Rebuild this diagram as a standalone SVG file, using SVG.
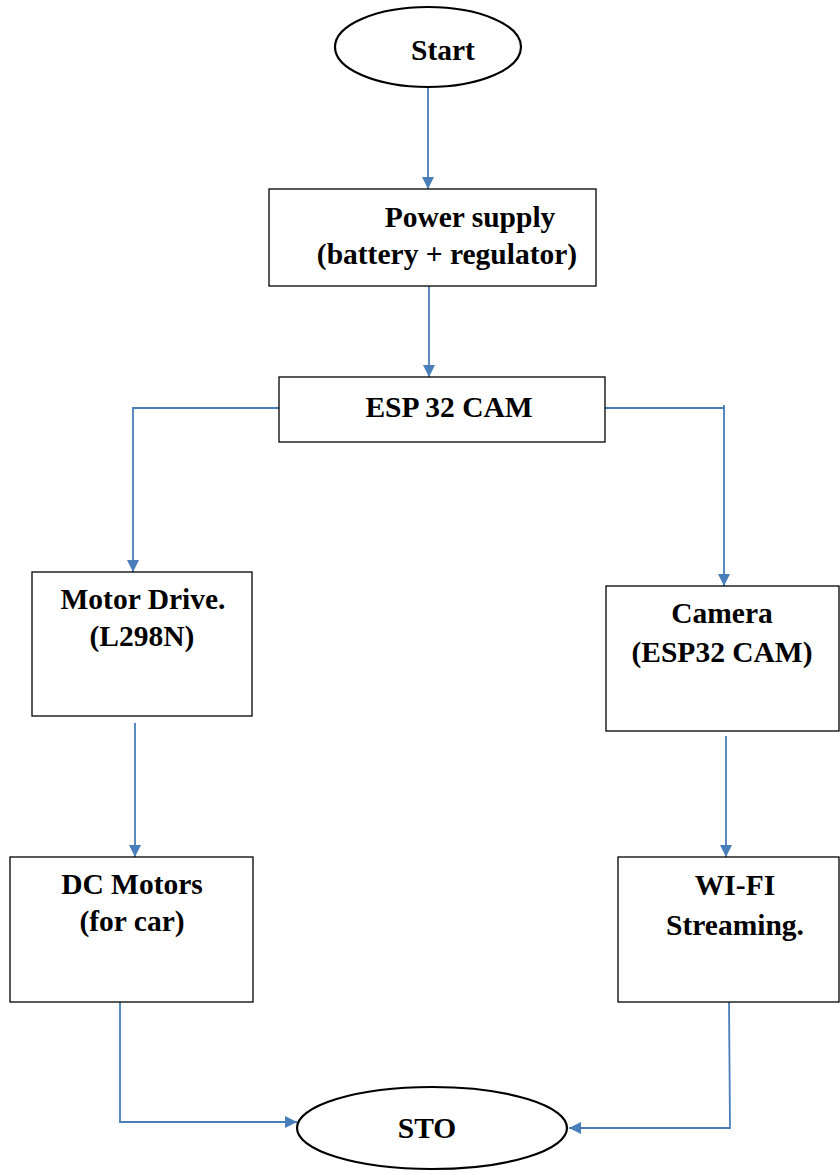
<svg xmlns="http://www.w3.org/2000/svg" width="840" height="1175" viewBox="0 0 840 1175">
<style>
.box{fill:#fff;stroke:#000;stroke-width:1.3}
.term{fill:#fff;stroke:#000;stroke-width:2.2}
.lbl{font-family:"Liberation Serif","Times New Roman",serif;font-weight:bold;font-size:29.5px;fill:#000;text-anchor:middle}
.con{fill:none;stroke:#4A7EBB;stroke-width:1.8}
</style>
<defs>
<marker id="ah" viewBox="0 0 12 12" refX="12" refY="6" markerWidth="12" markerHeight="12" markerUnits="userSpaceOnUse" orient="auto">
<path d="M0,0 L12,6 L0,12 Z" fill="#4A7EBB"/>
</marker>
</defs>
<rect width="840" height="1175" fill="#fff"/>
<g id="connectors">
<line class="con" x1="428" y1="87" x2="428" y2="189" marker-end="url(#ah)"/>
<line class="con" x1="429" y1="286" x2="429" y2="377" marker-end="url(#ah)"/>
<polyline class="con" points="279,408 133,408 133,572" marker-end="url(#ah)"/>
<polyline class="con" points="605,408 724,408 724,586" marker-end="url(#ah)"/>
<line class="con" x1="724" y1="405" x2="724" y2="410"/>
<line class="con" x1="135" y1="723" x2="135" y2="857" marker-end="url(#ah)"/>
<line class="con" x1="726" y1="736" x2="726" y2="857" marker-end="url(#ah)"/>
<polyline class="con" points="120,1002 120,1122 297,1122" marker-end="url(#ah)"/>
<polyline class="con" points="729,1002 730,1128 569,1128" marker-end="url(#ah)"/>
</g>
<g id="start">
<ellipse class="term" cx="428" cy="47" rx="93" ry="40"/>
<text class="lbl" x="443" y="60">Start</text>
</g>
<g id="power">
<rect class="box" x="269" y="189" width="327" height="97"/>
<text class="lbl" x="470" y="227">Power supply</text>
<text class="lbl" x="447" y="264">(battery + regulator)</text>
</g>
<g id="esp">
<rect class="box" x="279" y="377" width="326" height="65"/>
<text class="lbl" x="449" y="417">ESP 32 CAM</text>
</g>
<g id="motor">
<rect class="box" x="32" y="572" width="220" height="144"/>
<text class="lbl" x="143" y="609">Motor Drive.</text>
<text class="lbl" x="142" y="646">(L298N)</text>
</g>
<g id="camera">
<rect class="box" x="606" y="586" width="233" height="145"/>
<text class="lbl" x="722" y="623">Camera</text>
<text class="lbl" x="722" y="662">(ESP32 CAM)</text>
</g>
<g id="dc">
<rect class="box" x="10" y="857" width="243" height="145"/>
<text class="lbl" x="132" y="894">DC Motors</text>
<text class="lbl" x="132" y="931">(for car)</text>
</g>
<g id="wifi">
<rect class="box" x="618" y="857" width="221" height="145"/>
<text class="lbl" x="735" y="895">WI-FI</text>
<text class="lbl" x="735" y="935">Streaming.</text>
</g>
<g id="stop">
<ellipse class="term" cx="432" cy="1128" rx="135" ry="41"/>
<text class="lbl" x="427" y="1138">STO</text>
</g>
</svg>
